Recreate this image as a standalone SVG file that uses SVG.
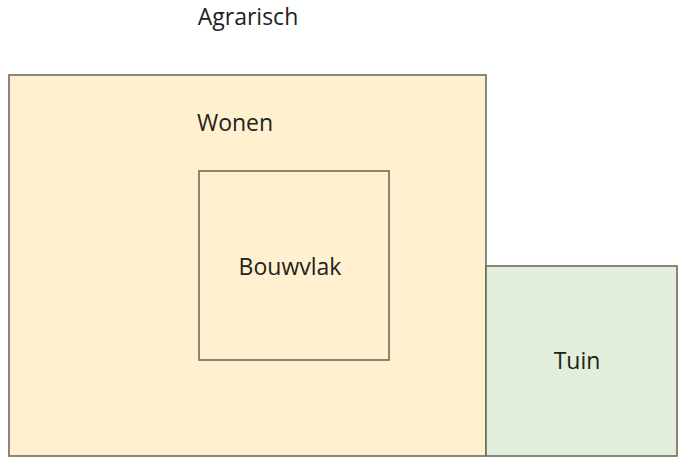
<svg xmlns="http://www.w3.org/2000/svg" width="682" height="466" viewBox="0 0 682 466">
  <style>
    .zone { stroke: #6e6b5e; stroke-width: 1.6; }
    .wonen { fill: #fff1cf; }
    .tuin { fill: #e2eed9; }
    .lbl { font-family: "Open Sans", "Liberation Sans", sans-serif; font-size: 23px; fill: #222220; text-anchor: middle; }
  </style>
  <rect width="682" height="466" fill="#ffffff"/>
  <g id="agrarisch">
    <text class="lbl" x="248" y="25">Agrarisch</text>
  </g>
  <g id="wonen">
    <rect class="zone wonen" x="9" y="75" width="477" height="381"/>
    <text class="lbl" x="235" y="131">Wonen</text>
  </g>
  <g id="bouwvlak">
    <rect class="zone wonen" x="199" y="171" width="190" height="189"/>
    <text class="lbl" x="290" y="275">Bouwvlak</text>
  </g>
  <g id="tuin">
    <rect class="zone tuin" x="486" y="266" width="191" height="190"/>
    <text class="lbl" x="577" y="369">Tuin</text>
  </g>
  <g id="connectors"></g>
</svg>
